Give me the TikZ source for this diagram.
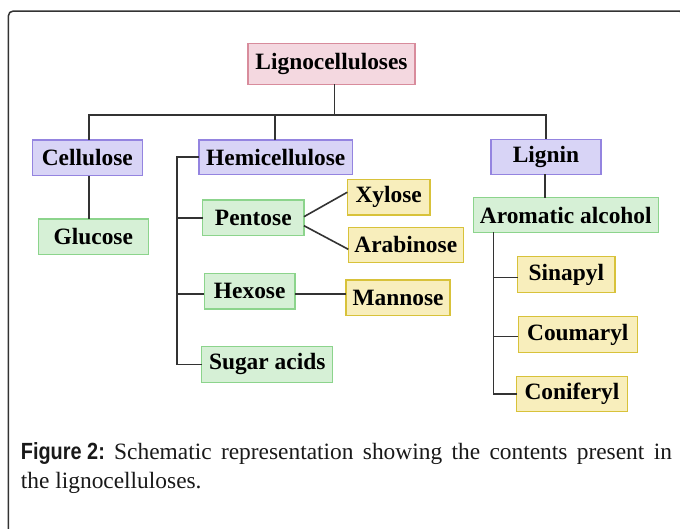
\documentclass[tikz,border=0pt]{standalone}
\usepackage{fontspec}
\setmainfont{Liberation Serif}
\newfontfamily\capsans{Liberation Sans}
\usetikzlibrary{calc}
\definecolor{pinkF}{HTML}{F4D8E0}\definecolor{pinkD}{HTML}{D88C9C}
\definecolor{purpF}{HTML}{D8D4F6}\definecolor{purpD}{HTML}{9484E0}
\definecolor{greenF}{HTML}{D6F0D6}\definecolor{greenD}{HTML}{8CD48C}
\definecolor{yelF}{HTML}{F8EEBC}\definecolor{yelD}{HTML}{D8C23A}
\definecolor{lineC}{HTML}{333333}
\tikzset{
  bx/.style={draw, line width=1.4pt, inner sep=0pt, outer sep=0pt,
    font=\fontsize{23.4}{26}\selectfont\bfseries, text=black},
  pinkbox/.style={bx, fill=pinkF, draw=pinkD},
  purpbox/.style={bx, fill=purpF, draw=purpD},
  greenbox/.style={bx, fill=greenF, draw=greenD},
  yelbox/.style={bx, fill=yelF, draw=yelD},
  conn/.style={draw=lineC, line width=1.6pt},
  framebox/.style={draw=lineC, line width=1.5pt, rounded corners=5pt},
  captext/.style={inner sep=0pt, anchor=base west, text=black!90,
    font=\fontsize{23.4}{28}\selectfont}
}
\begin{document}
\begin{tikzpicture}[x=1pt,y=-1pt]
\useasboundingbox[fill=white] (0,0) rectangle (680,528);
\begin{scope}
\clip (0,0) rectangle (680,528);
\draw[framebox] (8.3,11) rectangle (684,545);
\end{scope}
% boxes
\node[pinkbox, minimum width=167pt, minimum height=41pt] (ligno) at (331.5,63.8) {Lignocelluloses};
\node[purpbox, minimum width=110pt, minimum height=35.7pt] (cell) at (87.3,157.9) {Cellulose};
\node[greenbox, minimum width=110pt, minimum height=35.3pt] (gluc) at (93.3,236.7) {Glucose};
\node[purpbox, minimum width=153.3pt, minimum height=34.3pt] (hemi) at (275.7,157.2) {Hemicellulose};
\node[purpbox, minimum width=110pt, minimum height=35pt] (lignin) at (546,156.8) {Lignin};
\node[greenbox, minimum width=101.3pt, minimum height=35.3pt] (pent) at (253.3,217.7) {Pentose};
\node[yelbox, minimum width=82.7pt, minimum height=35.7pt] (xyl) at (388.7,197.2) {Xylose};
\node[yelbox, minimum width=115pt, minimum height=35pt] (arab) at (405.8,244.8) {Arabinose};
\node[greenbox, minimum width=185pt, minimum height=34.6pt] (arom) at (565.8,215) {Aromatic alcohol};
\node[greenbox, minimum width=90.7pt, minimum height=35.7pt] (hex) at (249.7,291.2) {Hexose};
\node[yelbox, minimum width=104pt, minimum height=35.7pt] (mann) at (398,297.8) {Mannose};
\node[greenbox, minimum width=131pt, minimum height=36pt] (sugar) at (267.2,364.3) {Sugar acids};
\node[yelbox, minimum width=97.3pt, minimum height=35.6pt] (sin) at (566.3,274.5) {Sinapyl};
\node[yelbox, minimum width=119pt, minimum height=35.6pt] (coum) at (577.8,334.5) {Coumaryl};
\node[yelbox, minimum width=110.6pt, minimum height=34.6pt] (conif) at (572,394) {Coniferyl};
% connectors
\coordinate (bus) at (334.3,115);
\coordinate (brk) at (176.7,156);
\coordinate (ab) at (493.3,232.3);
\draw[conn] (ligno.south -| bus) -- (bus);
\draw[conn] ([xshift=1.7pt]cell.north) -- ([xshift=1.7pt]cell.north |- bus) -- (lignin.north |- bus) -- (lignin.north);
\draw[conn] ([xshift=-0.7pt]hemi.north) -- ([xshift=-0.7pt]hemi.north |- bus);
\draw[conn] ([xshift=1.7pt]cell.south) -- ([xshift=1.7pt]cell.south |- gluc.north);
\draw[conn] ([xshift=-1pt]lignin.south) -- ([xshift=-1pt]lignin.south |- arom.north);
\draw[conn] (hemi.west) -- (hemi.west -| brk) -- (sugar.west -| brk) -- (sugar.west);
\draw[conn] (pent.west -| brk) -- (pent.west);
\draw[conn] ([yshift=-2.8pt]hex.west -| brk) -- ([yshift=-2.8pt]hex.west);
\draw[conn] ([yshift=1pt]pent.east) -- ([yshift=5pt]xyl.west);
\draw[conn] ([yshift=-8pt]pent.east) -- ([yshift=-4.5pt]arab.west);
\draw[conn] ([yshift=-3pt]hex.east) -- ([yshift=-3pt]hex.east -| mann.west);
\draw[conn] (ab) -- (ab |- conif.west) -- (conif.west);
\draw[conn] ([yshift=-2.8pt]ab |- sin.west) -- ([yshift=-2.8pt]sin.west);
\draw[conn] ([yshift=-1.8pt]ab |- coum.west) -- ([yshift=-1.8pt]coum.west);
% caption
\node[captext] (cap1) at (20.7,459) {\hbox to 651pt{\scalebox{0.85}[1]{\capsans\bfseries Figure 2:} Schematic representation showing the contents present in}};
\node[captext] (cap2) at (20.7,488) {the lignocelluloses.};
\end{tikzpicture}
\end{document}
